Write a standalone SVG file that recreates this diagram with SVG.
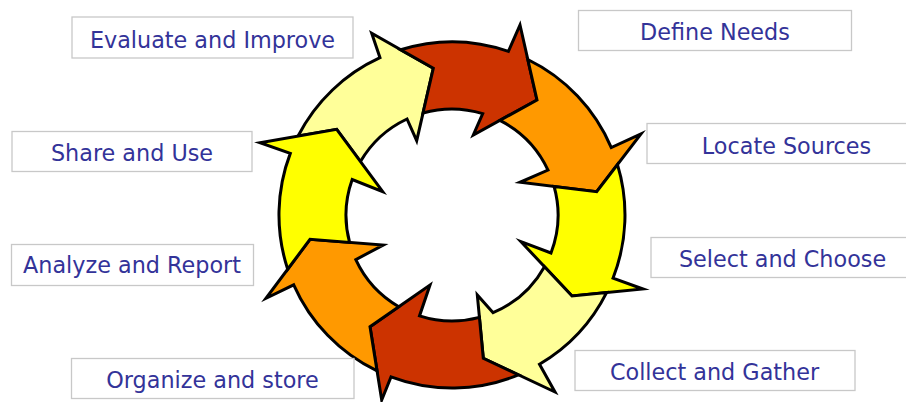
<svg xmlns="http://www.w3.org/2000/svg" width="906" height="402" viewBox="0 0 906 402">
  <style>
    .box { fill: #ffffff; stroke: #c8c8c8; stroke-width: 1.3; }
    .lbl { font-family: "DejaVu Sans", "Liberation Sans", sans-serif; font-size: 22.3px; fill: #333399; text-anchor: middle; }
    .arr { stroke: #000000; stroke-width: 3; stroke-linejoin: miter; stroke-miterlimit: 12; }
    .ly { fill: #FFFF99; }
    .rd { fill: #CC3300; }
    .or { fill: #FF9900; }
    .ye { fill: #FFFF00; }
  </style>
  <rect width="906" height="402" fill="#ffffff"/>

  <g id="connectors">
    <path id="arrow-evaluate" class="arr ly" d="M 298.07,136.05 A 173 173 0 0 1 380.0,57.7 L 371.7,33.3 L 433.3,68.3 L 416.7,140.7 L 407.0,119.0 A 106 106 0 0 0 360.47,161.54 L 336.7,129.3 Z"/>
    <path id="arrow-define" class="arr rd" d="M 400.7,49.8 A 173 173 0 0 1 508.4,51.4 L 520,25 L 537,100 L 473.3,135 L 482.7,113.6 A 106 106 0 0 0 423.0,113.0 L 433.3,68.3 Z"/>
    <path id="arrow-locate" class="arr or" d="M 527.8,59.5 A 173 173 0 0 1 611.3,147.6 L 641,134 L 596.7,191.7 L 520,182.3 L 548.0,170.1 A 106 106 0 0 0 499.85,120.4 L 537,100 Z"/>
    <path id="arrow-select" class="arr ye" d="M 617.5,164.6 A 173 173 0 0 1 613.0,278.2 L 643,289 L 572,296 L 521,241.7 L 551.0,253.0 A 106 106 0 0 0 554.1,186.5 L 596.7,191.7 Z"/>
    <path id="arrow-collect" class="arr ly" d="M 606.6,292.6 A 173 173 0 0 1 539.5,364.2 L 555,392 L 483.3,358.3 L 477.3,295 L 493.1,312.7 A 106 106 0 0 0 544.5,266.7 L 572,296 Z"/>
    <path id="arrow-organize" class="arr rd" d="M 518.4,374.8 A 173 173 0 0 1 391.0,376.9 L 381.7,400 L 370,326.7 L 430,285 L 419.5,315.9 A 106 106 0 0 0 479.4,317.4 L 483.3,358.3 Z"/>
    <path id="arrow-analyze" class="arr or" d="M 377.06,370.93 A 173 173 0 0 1 293.7,284.8 L 266,298.3 L 310,239.3 L 383.3,245 L 355.8,259.6 A 106 106 0 0 0 398.8,306.7 L 370,326.7 Z"/>
    <path id="arrow-share" class="arr ye" d="M 287.7,269.2 A 173 173 0 0 1 290.3,153.4 L 260,142.7 L 336.7,129.3 L 382.7,191.7 L 352.2,179.5 A 106 106 0 0 0 349.6,242.4 L 310,239.3 Z"/>
  </g>

  <g id="node-evaluate">
    <rect class="box" x="72" y="17" width="281" height="41"/>
    <text class="lbl" x="212.5" y="47.5">Evaluate and Improve</text>
  </g>
  <g id="node-define">
    <rect class="box" x="578.5" y="10.5" width="273" height="40"/>
    <text class="lbl" x="715" y="40">Define Needs</text>
  </g>
  <g id="node-share">
    <rect class="box" x="12" y="131.5" width="240" height="40"/>
    <text class="lbl" x="132" y="161">Share and Use</text>
  </g>
  <g id="node-locate">
    <rect class="box" x="647" y="123.5" width="280" height="40"/>
    <text class="lbl" x="786.5" y="154">Locate Sources</text>
  </g>
  <g id="node-analyze">
    <rect class="box" x="11.5" y="244.5" width="242" height="41"/>
    <text class="lbl" x="132" y="272.5">Analyze and Report</text>
  </g>
  <g id="node-select">
    <rect class="box" x="651" y="237.5" width="280" height="40"/>
    <text class="lbl" x="782.5" y="266.5">Select and Choose</text>
  </g>
  <g id="node-organize">
    <rect class="box" x="71.5" y="358.5" width="282.5" height="40"/>
    <text class="lbl" x="212.5" y="388">Organize and store</text>
  </g>
  <g id="node-collect">
    <rect class="box" x="575" y="350.5" width="280" height="40"/>
    <text class="lbl" x="714.5" y="380">Collect and Gather</text>
  </g>
</svg>
